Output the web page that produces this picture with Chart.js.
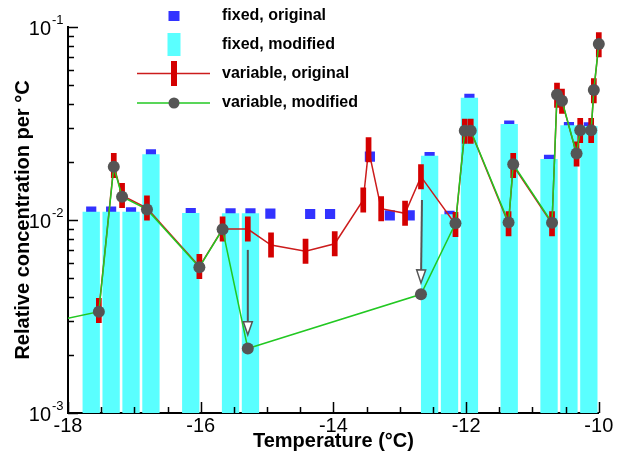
<!DOCTYPE html>
<html>
<head>
<meta charset="utf-8">
<script src="https://cdn.jsdelivr.net/npm/chart.js@4.4.0/dist/chart.umd.min.js"></script>
<style>
  html, body { margin: 0; padding: 0; background: #fff; }
</style>
</head>
<body>
<canvas id="chart" width="617" height="453"></canvas>
<script>
// fixed, original (blue squares)
const fixedOrigX = [-17.65, -17.35, -17.05, -16.75, -16.15, -15.55, -15.25, -14.95, -14.35, -14.05,
                    -13.45, -13.15, -12.85, -12.55, -12.25, -11.95, -11.35, -10.75, -10.45, -10.15];
const fixedOrigY = [0.01104, 0.01104, 0.01096, 0.0219, 0.01086, 0.01082, 0.01082, 0.01078, 0.01074, 0.01074,
                    0.0213, 0.01057, 0.01057, 0.0212, 0.0105, 0.0425, 0.0308, 0.0205, 0.0303, 0.0302];

// fixed, modified (cyan bars)
const fixedModX = [-17.65, -17.35, -17.05, -16.75, -16.15, -15.55, -15.25,
                   -12.55, -12.25, -11.95, -11.35, -10.75, -10.45, -10.15];
const fixedModY = [0.01104, 0.01104, 0.01104, 0.0219, 0.01087, 0.01083, 0.01083,
                   0.0215, 0.0107, 0.0430, 0.0314, 0.0207, 0.0310, 0.0307];

// variable, original (red)
const varOrigX = [-17.535, -17.31, -17.185, -16.81, -16.02, -15.67, -15.29, -14.94, -14.42, -13.98,
                  -13.55, -13.47, -13.28, -12.92, -12.68, -12.16, -12.02, -11.93, -11.36, -11.29,
                  -10.705, -10.63, -10.555, -10.335, -10.28, -10.115, -10.075, -10.0];
const varOrigY = [0.0034, 0.01916, 0.0134, 0.01154, 0.00574, 0.00898, 0.00898, 0.00742, 0.00689, 0.00753,
                  0.0127, 0.0231, 0.01144, 0.01083, 0.01677, 0.00948, 0.0288, 0.0288, 0.00957, 0.01916,
                  0.00957, 0.0443, 0.0412, 0.0220, 0.0291, 0.0291, 0.0468, 0.0810];

// variable, modified (green + grey dots)
const varModX = [-18.4, -17.535, -17.31, -17.185, -16.81, -16.02, -15.67, -15.29, -12.68, -12.16,
                 -12.02, -11.93, -11.36, -11.29, -10.705, -10.63, -10.555, -10.335, -10.28, -10.115,
                 -10.075, -10.0];
const varModY = [0.0029, 0.00335, 0.01888, 0.01321, 0.01135, 0.00569, 0.00895, 0.00216, 0.00412, 0.00961,
                 0.0290, 0.0290, 0.00972, 0.01944, 0.00968, 0.0446, 0.0415, 0.0221, 0.0292, 0.0292,
                 0.0472, 0.0817];

// arrows (original -> modified)
const arrowFromX = [-15.29, -12.665];
const arrowFromY = [0.0070, 0.0127];
const arrowToX = [-15.29, -12.68];
const arrowToY = [0.00254, 0.00472];

// axes
const xTicks = [-18, -16, -14, -12, -10];
const yTicks = [0.001, 0.01, 0.1];
const yTickExp = ['-3', '-2', '-1'];

const seriesLabels = ['fixed, original', 'fixed, modified', 'variable, original', 'variable, modified'];

const BLUE = '#3232ff';
const CYAN = '#5affff';
const RED = '#d40000';
const RED_LINE = '#cc1c1c';
const GREEN = '#22c822';
const GREY = '#555555';

const toPoints = (xs, ys) => xs.map((v, i) => ({x: v, y: ys[i]}));

Chart.defaults.font.family = "'Liberation Sans', Arial, Helvetica, sans-serif";
Chart.defaults.color = '#000';

// ticks pointing inward, y tick labels, legend and arrows
const decor = {
    id: 'decor',
    afterDatasetsDraw(chart) {
        const {ctx, scales: {x, y}} = chart;
        ctx.save();
        for (let i = 0; i < arrowFromX.length; i++) {
            const x0 = x.getPixelForValue(arrowFromX[i]);
            const y0 = y.getPixelForValue(arrowFromY[i]);
            const x1 = x.getPixelForValue(arrowToX[i]);
            const y1 = y.getPixelForValue(arrowToY[i]);
            const ang = Math.atan2(y1 - y0, x1 - x0);
            const hl = 13, hw = 4.5;
            const bx = x1 - hl * Math.cos(ang), by = y1 - hl * Math.sin(ang);
            ctx.strokeStyle = GREY;
            ctx.lineWidth = 2;
            ctx.beginPath();
            ctx.moveTo(x0, y0);
            ctx.lineTo(bx, by);
            ctx.stroke();
            ctx.beginPath();
            ctx.moveTo(x1, y1);
            ctx.lineTo(bx + hw * Math.sin(ang), by - hw * Math.cos(ang));
            ctx.lineTo(bx - hw * Math.sin(ang), by + hw * Math.cos(ang));
            ctx.closePath();
            ctx.fillStyle = '#fff';
            ctx.fill();
            ctx.lineWidth = 1.5;
            ctx.stroke();
        }
        ctx.restore();
    },
    afterDraw(chart) {
        const {ctx, chartArea: area, scales: {x, y}} = chart;
        ctx.save();
        ctx.strokeStyle = '#000';
        ctx.lineWidth = 1.5;
        ctx.beginPath();
        // x ticks
        for (let v = -18; v <= -10; v += 0.5) {
            const px = Math.round(x.getPixelForValue(v)) + 0.5;
            const len = xTicks.includes(v) ? 11 : 6;
            ctx.moveTo(px, area.bottom);
            ctx.lineTo(px, area.bottom - len);
        }
        // y ticks
        yTicks.forEach((d, k) => {
            const py = Math.round(y.getPixelForValue(d)) + 0.5;
            ctx.moveTo(area.left, py);
            ctx.lineTo(area.left + 10, py);
            if (k < yTicks.length - 1) {
                for (let m = 2; m <= 9; m++) {
                    const pm = Math.round(y.getPixelForValue(m * d)) + 0.5;
                    ctx.moveTo(area.left, pm);
                    ctx.lineTo(area.left + 6, pm);
                }
            }
        });
        ctx.stroke();

        // y tick labels 10^n
        ctx.fillStyle = '#000';
        yTicks.forEach((d, k) => {
            const py = y.getPixelForValue(d);
            ctx.font = "20px 'Liberation Sans', Arial, sans-serif";
            ctx.textAlign = 'right';
            ctx.textBaseline = 'middle';
            ctx.fillText('10', area.left - 17, py + 2);
            ctx.font = "13px 'Liberation Sans', Arial, sans-serif";
            ctx.textAlign = 'left';
            ctx.fillText(yTickExp[k], area.left - 16, py - 7);
        });

        // legend
        const sx = 174, tx = 222;
        const rows = [16, 44.5, 73.5, 103];
        ctx.fillStyle = BLUE;
        ctx.fillRect(sx - 5.5, rows[0] - 5, 11, 10);
        ctx.fillStyle = CYAN;
        ctx.fillRect(sx - 6.5, rows[1] - 11.5, 13, 23);
        ctx.strokeStyle = RED_LINE;
        ctx.lineWidth = 1.5;
        ctx.beginPath();
        ctx.moveTo(sx - 37, rows[2]);
        ctx.lineTo(sx + 36, rows[2]);
        ctx.stroke();
        ctx.fillStyle = RED;
        ctx.fillRect(sx - 3, rows[2] - 12.5, 6, 25);
        ctx.strokeStyle = GREEN;
        ctx.beginPath();
        ctx.moveTo(sx - 37, rows[3]);
        ctx.lineTo(sx + 36, rows[3]);
        ctx.stroke();
        ctx.fillStyle = GREY;
        ctx.beginPath();
        ctx.arc(sx, rows[3], 5.5, 0, Math.PI * 2);
        ctx.fill();

        ctx.fillStyle = '#000';
        ctx.font = "bold 16px 'Liberation Sans', Arial, sans-serif";
        ctx.textAlign = 'left';
        ctx.textBaseline = 'middle';
        seriesLabels.forEach((t, i) => ctx.fillText(t, tx, rows[i]));
        ctx.restore();
    }
};

const lineClip = {left: 0, top: 12, right: 12, bottom: 0};

new Chart(document.getElementById('chart'), {
    type: 'line',
    data: {
        datasets: [
            {
                label: seriesLabels[0],
                data: toPoints(fixedOrigX, fixedOrigY),
                showLine: false,
                pointStyle: 'rect',
                pointRadius: 7.2,
                pointBackgroundColor: BLUE,
                pointBorderWidth: 0,
                order: 4
            },
            {
                type: 'bar',
                label: seriesLabels[1],
                data: toPoints(fixedModX, fixedModY),
                backgroundColor: CYAN,
                borderWidth: 0,
                categoryPercentage: 1,
                barPercentage: 0.87,
                order: 3
            },
            {
                label: seriesLabels[2],
                data: toPoints(varOrigX, varOrigY),
                borderColor: RED_LINE,
                borderWidth: 1.5,
                pointStyle: 'line',
                pointRotation: 90,
                pointRadius: 12.5,
                pointBorderWidth: 5.7,
                pointBorderColor: RED,
                clip: lineClip,
                order: 2
            },
            {
                label: seriesLabels[3],
                data: toPoints(varModX, varModY),
                borderColor: GREEN,
                borderWidth: 1.5,
                pointStyle: 'circle',
                pointRadius: 6,
                pointBackgroundColor: GREY,
                pointBorderColor: GREY,
                pointBorderWidth: 0,
                clip: lineClip,
                order: 1
            }
        ]
    },
    options: {
        responsive: false,
        animation: false,
        layout: {padding: {left: 0, top: 27, right: 16, bottom: 0}},
        plugins: {
            legend: {display: false},
            tooltip: {enabled: false}
        },
        scales: {
            x: {
                type: 'linear',
                min: -18,
                max: -10,
                offset: false,
                grid: {display: false, drawTicks: false},
                border: {display: true, color: '#000', width: 2},
                afterBuildTicks: (s) => { s.ticks = xTicks.map(v => ({value: v})); },
                afterFit: (s) => { s.height = 40; },
                ticks: {font: {size: 20}, padding: 1, maxRotation: 0, autoSkip: false},
                title: {
                    display: true,
                    text: 'Temperature (°C)',
                    font: {size: 20, weight: 'bold'},
                    padding: {top: 0, bottom: 0}
                }
            },
            y: {
                type: 'logarithmic',
                min: 0.001,
                max: 0.1,
                grid: {display: false, drawTicks: false},
                border: {display: true, color: '#000', width: 2},
                afterBuildTicks: (s) => { s.ticks = yTicks.map(v => ({value: v})); },
                afterFit: (s) => { s.width = 68; },
                ticks: {display: false},
                title: {
                    display: true,
                    text: 'Relative concentration per °C',
                    font: {size: 20, weight: 'bold'},
                    padding: {top: 11, bottom: 0}
                }
            }
        }
    },
    plugins: [decor]
});
</script>
</body>
</html>
